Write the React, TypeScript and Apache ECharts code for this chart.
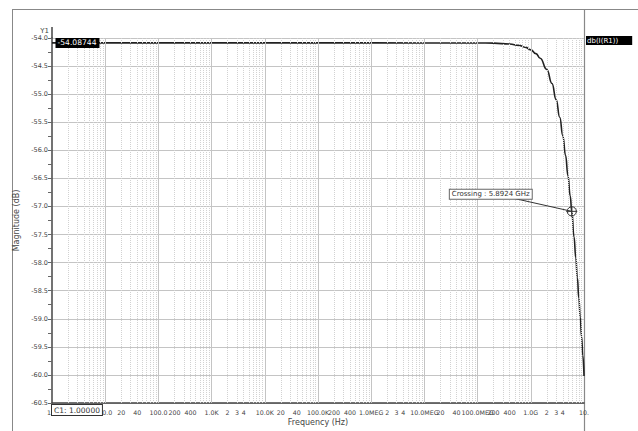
import React, { useEffect, useRef } from "react";
import * as echarts from "echarts";

// Frequency response readings (Hz, dB)
const freqHz = [
  1, 1e3, 1e6, 1e8, 2e8, 4e8, 6e8, 8e8, 1e9, 1.25e9, 1.5e9, 2e9, 2.5e9, 3e9,
  3.5e9, 4e9, 4.5e9, 5e9, 5.5e9, 5.8924e9, 6.5e9, 7e9, 7.5e9, 8e9, 8.5e9, 9e9,
  9.5e9, 1e10,
];
const magnitudeDb = [
  -54.08744, -54.08744, -54.08744, -54.088, -54.092, -54.107, -54.132, -54.167,
  -54.211, -54.278, -54.36, -54.56, -54.81, -55.1, -55.41, -55.74, -56.09,
  -56.45, -56.81, -57.087, -57.545, -57.91, -58.27, -58.63, -58.975, -59.315,
  -59.65, -60.02,
];

const flatLevelDb = -54.08744;
const crossingHz = 5.8924e9;
const crossingDb = -57.087;
const leaderStart = [4.375e8, -56.847];

const decadeHz = [1, 1e1, 1e2, 1e3, 1e4, 1e5, 1e6, 1e7, 1e8, 1e9, 1e10];
const decadeLabels = [
  "1.0", "10.0", "100.0", "1.0K", "10.0K", "100.0K", "1.0MEG", "10.0MEG",
  "100.0MEG", "1.0G", "10.",
];
const minorMultipliers = [2, 3, 4, 5, 6, 7, 8, 9];
// labelled minor ticks per decade (decade index -> multipliers); first decade is under the cursor box
const minorLabelled = [
  [], [2, 4], [2, 4], [2, 3, 4], [2, 4], [2, 4], [2, 3, 4], [2, 4], [2, 4], [2, 3, 4],
];

const yTickFmt = (v: number) => v.toFixed(1);

export default function App() {
  const ref = useRef<HTMLDivElement>(null);
  useEffect(() => {
    if (!ref.current) return;
    const chart = echarts.init(ref.current, null, { renderer: "svg" });
    const font = "DejaVu Sans";
    const textColor = "#444";
    const tickLabel = {
      position: "start",
      distance: 6,
      fontSize: 6.3,
      fontFamily: font,
      color: textColor,
    };

    const vLines: any[] = [];
    decadeHz.forEach((f, k) => {
      vLines.push({
        xAxis: f,
        lineStyle: { type: "solid", color: k === 0 || k === 10 ? "transparent" : "#c4c4c4", width: 1 },
        label: { ...tickLabel, show: true, formatter: decadeLabels[k] },
      });
    });
    for (let k = 0; k < 10; k++) {
      for (const m of minorMultipliers) {
        const f = m * Math.pow(10, k);
        const labelled = minorLabelled[k].includes(m);
        const txt = String(m * Math.pow(10, k % 3));
        vLines.push({
          xAxis: f,
          lineStyle: { type: "dotted", color: "#d2d2d2", width: 1 },
          label: { ...tickLabel, show: labelled, formatter: txt },
        });
      }
    }

    const data = freqHz.map((f, i) => [f, magnitudeDb[i]]);

    chart.setOption({
      animation: false,
      backgroundColor: "#fff",
      grid: { left: 52, top: 38, right: 54, bottom: 27, containLabel: false },
      xAxis: {
        type: "log",
        logBase: 10,
        min: 1,
        max: 1e10,
        name: "Frequency (Hz)",
        nameLocation: "middle",
        nameGap: 15,
        nameTextStyle: { fontSize: 8, color: textColor, fontFamily: font },
        axisLine: { show: true, lineStyle: { color: "#444", width: 1.5 } },
        axisTick: { show: false },
        axisLabel: { show: false },
        splitLine: { show: false },
      },
      yAxis: {
        type: "value",
        min: -60.5,
        max: -54.0,
        interval: 0.5,
        name: "Magnitude (dB)",
        nameLocation: "middle",
        nameGap: 31,
        nameTextStyle: { fontSize: 8, color: textColor, fontFamily: font },
        axisLine: { show: true, lineStyle: { color: "#444", width: 1.5 } },
        axisTick: { show: true, length: 4, lineStyle: { color: "#666" } },
        minorTick: { show: true, splitNumber: 2, length: 4, lineStyle: { color: "#666" } },
        axisLabel: {
          fontSize: 6.5,
          fontFamily: font,
          color: textColor,
          margin: 4,
          formatter: yTickFmt,
        },
        splitLine: { show: true, lineStyle: { color: "#c4c4c4", width: 1 } },
      },
      series: [
        {
          type: "line",
          data,
          showSymbol: false,
          smooth: true,
          smoothMonotone: "x",
          lineStyle: { color: "#222", width: 1.6 },
          z: 3,
          markLine: {
            silent: true,
            symbol: ["none", "none"],
            animation: false,
            emphasis: { disabled: true },
            data: [
              ...vLines,
              [
                { coord: leaderStart, lineStyle: { type: "solid", color: "#333", width: 1 }, label: { show: false } },
                { coord: [crossingHz, crossingDb] },
              ],
            ],
          },
          markPoint: {
            silent: true,
            animation: false,
            data: [
              {
                coord: [1, flatLevelDb],
                symbol: "circle",
                symbolSize: 1,
                itemStyle: { color: "transparent" },
                label: {
                  show: true,
                  position: "right",
                  distance: 3,
                  formatter: String(flatLevelDb),
                  backgroundColor: "#000",
                  color: "#fff",
                  padding: [1, 3, 1, 2],
                  fontSize: 7.6,
                  fontFamily: font,
                },
              },
              {
                coord: [crossingHz, crossingDb],
                symbol:
                  "path://M0,-5A5,5,0,1,1,0,5A5,5,0,1,1,0,-5Z M-6,0L6,0 M0,-6L0,6",
                symbolSize: 11,
                itemStyle: { color: "none", borderColor: "#333", borderWidth: 1 },
                label: {
                  show: true,
                  position: "inside",
                  offset: [-81, -17],
                  formatter: `Crossing : ${(crossingHz / 1e9).toFixed(4)} GHz`,
                  backgroundColor: "#fff",
                  borderColor: "#666",
                  borderWidth: 1,
                  padding: [1, 2, 1, 2],
                  color: "#333",
                  fontSize: 7,
                  fontFamily: font,
                },
              },
            ],
          },
        },
      ],
      graphic: [
        { type: "line", shape: { x1: 12.5, y1: 9.5, x2: 12.5, y2: 431 }, style: { stroke: "#888", lineWidth: 1 } },
        { type: "line", shape: { x1: 12, y1: 9.5, x2: 638, y2: 9.5 }, style: { stroke: "#888", lineWidth: 1 } },
        { type: "line", shape: { x1: 584.5, y1: 9, x2: 584.5, y2: 431 }, style: { stroke: "#888", lineWidth: 1.2 } },
        { type: "line", shape: { x1: 52, y1: 27, x2: 52, y2: 38 }, style: { stroke: "#444", lineWidth: 1.5 } },
        {
          type: "text",
          x: 49,
          y: 31,
          style: { text: "Y1", fill: textColor, font: `7px "${font}"`, textAlign: "right", textVerticalAlign: "middle" },
        },
        {
          type: "text",
          x: 586,
          y: 36,
          style: {
            text: "db(I(R1))",
            fill: "#fff",
            backgroundColor: "#000",
            padding: [1, 14, 1, 1],
            font: `7px "${font}"`,
          },
        },
        {
          type: "text",
          x: 52,
          y: 405,
          z: 100,
          style: {
            text: "C1: 1.00000",
            fill: "#333",
            backgroundColor: "#fff",
            borderColor: "#333",
            borderWidth: 1,
            padding: [1, 2, 1, 2],
            font: `7.5px "${font}"`,
          },
        },
      ],
    });
    return () => chart.dispose();
  }, []);
  return (
    <div
      ref={ref}
      style={{ position: "fixed", left: 0, top: 0, width: 638, height: 431 }}
    />
  );
}
